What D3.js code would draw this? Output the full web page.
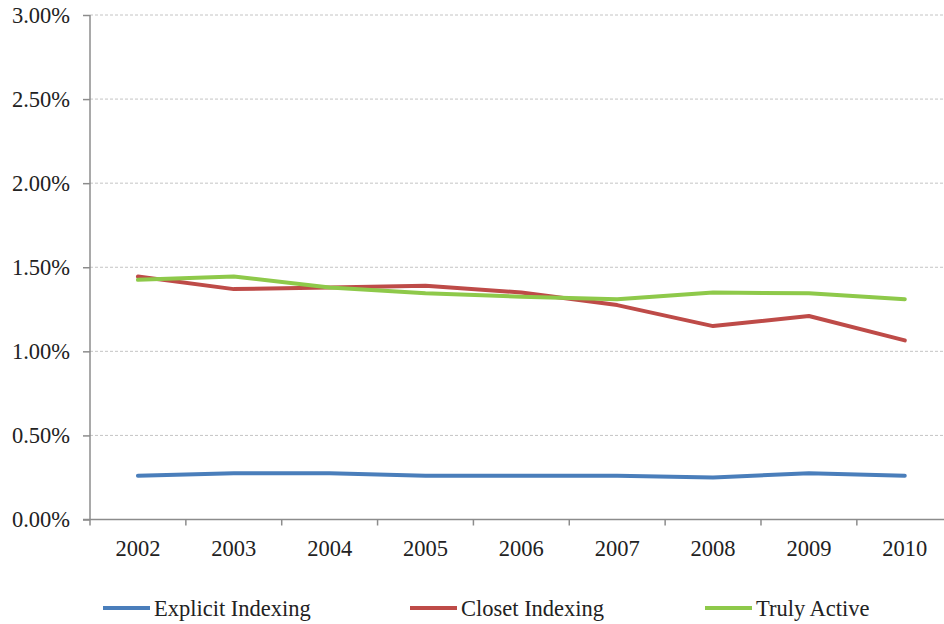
<!DOCTYPE html>
<html>
<head>
<meta charset="utf-8">
<script src="https://cdn.jsdelivr.net/npm/d3@7"></script>
<style>
  html, body { margin: 0; padding: 0; background: #fff; }
  svg { display: block; }
</style>
</head>
<body>
<svg id="chart" width="944" height="624"></svg>
<script>
// Years on the category axis
const years = ["2002", "2003", "2004", "2005", "2006", "2007", "2008", "2009", "2010"];

// Average expense ratio (%) by fund group
const explicitIndexing = [0.26, 0.275, 0.275, 0.26, 0.26, 0.26, 0.25, 0.275, 0.26];
const closetIndexing   = [1.445, 1.37, 1.38, 1.39, 1.35, 1.275, 1.15, 1.21, 1.065];
const trulyActive      = [1.425, 1.445, 1.38, 1.345, 1.325, 1.31, 1.35, 1.345, 1.31];

// Value axis ticks (%)
const yTicks = [0, 0.5, 1.0, 1.5, 2.0, 2.5, 3.0];

const seriesNames  = ["Explicit Indexing", "Closet Indexing", "Truly Active"];
const seriesValues = [explicitIndexing, closetIndexing, trulyActive];
const seriesColors = ["#4a7ebb", "#be4b48", "#8ec94a"];

const serif = "'Liberation Serif', 'Times New Roman', Tinos, 'DejaVu Serif', serif";
const svg = d3.select("#chart");
const plotLeft = 90, plotRight = 952.7, plotTop = 15, plotBottom = 519.5;
const fontSize = 22.5;

const x = d3.scaleBand().domain(years).range([plotLeft, plotRight]).padding(0);
const y = d3.scaleLinear().domain([0, 3]).range([plotBottom, plotTop]);

// Horizontal dashed gridlines
svg.append("g")
  .selectAll("line")
  .data(yTicks.filter(d => d > 0))
  .join("line")
  .attr("x1", plotLeft).attr("x2", 944)
  .attr("y1", d => y(d)).attr("y2", d => y(d))
  .attr("stroke", "#c4c4c4")
  .attr("stroke-width", 1)
  .attr("stroke-dasharray", "3,2");

// Value axis
const yAxis = svg.append("g")
  .attr("transform", `translate(${plotLeft},0)`)
  .call(d3.axisLeft(y).tickValues(yTicks).tickSize(7).tickPadding(13)
    .tickFormat(d => d3.format(".2f")(d) + "%"))
  .attr("font-family", serif)
  .attr("font-size", fontSize);
yAxis.select(".domain").attr("stroke", "#8c8c8c").attr("stroke-width", 1.5)
  .attr("d", `M0,${plotTop}V${plotBottom + 6}`);
yAxis.selectAll(".tick line").attr("stroke", "#8c8c8c").attr("stroke-width", 1.5);
yAxis.selectAll(".tick text").attr("fill", "#222");

// Category axis with ticks on band boundaries
const xAxis = svg.append("g").attr("transform", `translate(0,${plotBottom})`);
xAxis.append("line")
  .attr("x1", plotLeft - 7).attr("x2", 944).attr("y1", 0).attr("y2", 0)
  .attr("stroke", "#8c8c8c").attr("stroke-width", 1.5);
xAxis.selectAll("line.tk")
  .data(years.slice(1))
  .join("line").attr("class", "tk")
  .attr("x1", d => x(d)).attr("x2", d => x(d))
  .attr("y1", 0).attr("y2", 6)
  .attr("stroke", "#8c8c8c").attr("stroke-width", 1.5);
xAxis.selectAll("text")
  .data(years)
  .join("text")
  .attr("x", d => x(d) + x.bandwidth() / 2)
  .attr("y", 36)
  .attr("text-anchor", "middle")
  .attr("font-family", serif)
  .attr("font-size", fontSize)
  .attr("fill", "#222")
  .text(d => d);

// Series lines
const line = d3.line()
  .x((d, i) => x(years[i]) + x.bandwidth() / 2)
  .y(d => y(d));

svg.append("g")
  .selectAll("path")
  .data(seriesValues)
  .join("path")
  .attr("d", d => line(d))
  .attr("fill", "none")
  .attr("stroke", (d, i) => seriesColors[i])
  .attr("stroke-width", 4)
  .attr("stroke-linejoin", "round")
  .attr("stroke-linecap", "round");

// Legend
const legendX = [103, 410, 705];
const legend = svg.append("g")
  .selectAll("g")
  .data(seriesNames)
  .join("g")
  .attr("transform", (d, i) => `translate(${legendX[i]},608)`);
legend.append("line")
  .attr("x1", 0).attr("x2", 47).attr("y1", 0).attr("y2", 0)
  .attr("stroke", (d, i) => seriesColors[i])
  .attr("stroke-width", 4);
legend.append("text")
  .attr("x", 51).attr("y", 8)
  .attr("font-family", serif)
  .attr("font-size", fontSize)
  .attr("fill", "#222")
  .text(d => d);
</script>
</body>
</html>
